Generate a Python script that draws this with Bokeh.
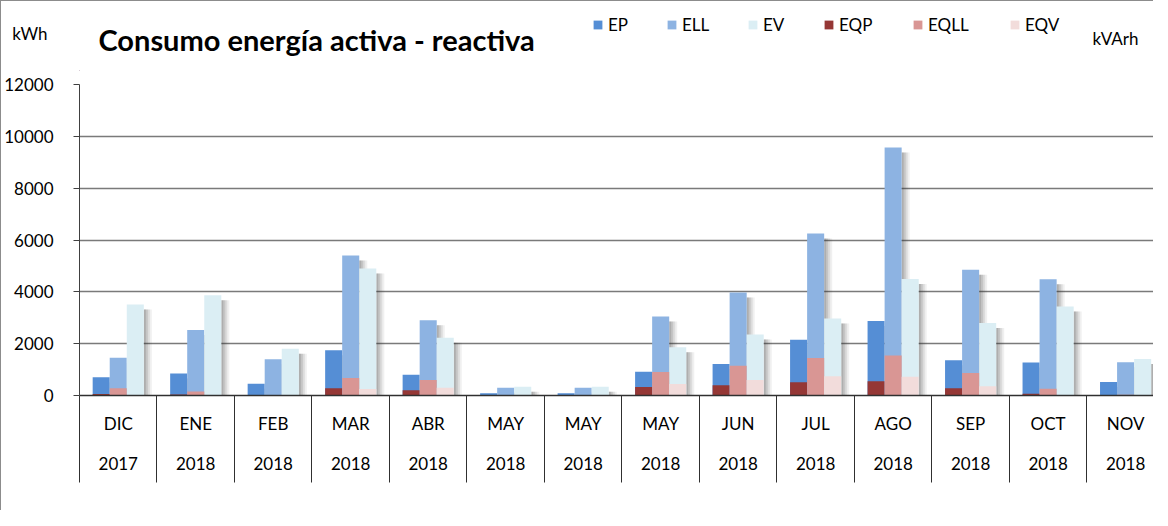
from bokeh.plotting import figure
from bokeh.layouts import column
from bokeh.models import (FixedTicker, LinearAxis, Legend, LegendItem, Label, Range1d,
                          ColumnDataSource, Grid)
from bokeh.embed import file_html
from bokeh.resources import INLINE

months = ["DIC", "ENE", "FEB", "MAR", "ABR", "MAY", "MAY", "MAY", "JUN", "JUL", "AGO", "SEP", "OCT", "NOV"]
years = ["2017", "2018", "2018", "2018", "2018", "2018", "2018", "2018", "2018", "2018", "2018", "2018", "2018", "2018"]
ep = [700, 850, 450, 1750, 800, 90, 90, 920, 1220, 2150, 2870, 1360, 1270, 520]
ell = [1460, 2530, 1400, 5400, 2900, 300, 300, 3050, 3970, 6250, 9570, 4850, 4490, 1280]
ev = [3510, 3870, 1800, 4900, 2230, 340, 335, 1860, 2350, 2970, 4500, 2800, 3430, 1410]
eqp = [60, 40, 10, 280, 200, 10, 10, 330, 400, 510, 550, 280, 70, 20]
eqll = [280, 150, 20, 680, 600, 20, 20, 910, 1150, 1450, 1540, 870, 260, 30]
eqv = [20, 20, 10, 250, 300, 10, 10, 440, 600, 740, 720, 360, 20, 10]
y_ticks = [0, 2000, 4000, 6000, 8000, 10000, 12000]
series_names = ["EP", "ELL", "EV", "EQP", "EQLL", "EQV"]

FONT = "Lato"
n = len(months)
centers = [i + 0.5 for i in range(n)]
bw = 0.22
offs = [-bw, 0.0, bw]
colors_a = ["#558ed5", "#8db3e2", "#dbeef4"]
colors_r = ["#953735", "#d99694", "#f2dcdb"]

FW = 1152
LEFT = 77

# ---------------- header (title, units, legend) ----------------
HH = 70
h = figure(width=FW, height=HH, output_backend="svg", toolbar_location=None,
           x_range=Range1d(LEFT, FW), y_range=Range1d(0, HH),
           x_axis_type=None, y_axis_type=None,
           min_border_left=LEFT, min_border_right=0, min_border_top=0, min_border_bottom=0)
h.outline_line_color = None
h.border_fill_color = "white"

unit_ax = LinearAxis(ticker=FixedTicker(ticks=[38]), major_label_overrides={38: "kWh"})
unit_ax.axis_line_color = None
unit_ax.major_tick_out = 0
unit_ax.major_tick_in = 0
unit_ax.major_label_standoff = 32
unit_ax.major_label_text_font = FONT
unit_ax.major_label_text_font_size = "17px"
unit_ax.major_label_text_color = "black"
h.add_layout(unit_ax, "left")

h.add_layout(Label(x=96, y=32, text="Consumo energía activa - reactiva", text_font=FONT,
                   text_font_style="bold", text_font_size="29px",
                   text_baseline="alphabetic", text_color="black"))
h.add_layout(Label(x=1091, y=33, text="kVArh", text_font=FONT, text_font_size="17px",
                   text_baseline="alphabetic", text_color="black"))

leg_x = [513, 587, 668, 744, 833, 930]
for name, col, lx in zip(series_names, colors_a + colors_r, leg_x):
    proxy = h.vbar(x=[-1000], top=[1], width=1, fill_color=col, line_color=None)
    lg = Legend(items=[LegendItem(label=name, renderers=[proxy])], location=(lx, 36),
                orientation="horizontal", glyph_width=11, glyph_height=11,
                label_text_font=FONT, label_text_font_size="17px", label_standoff=5,
                label_text_color="black",
                padding=0, margin=0, border_line_alpha=0, background_fill_alpha=0,
                label_height=20)
    h.add_layout(lg)

# ---------------- main chart ----------------
p = figure(width=FW, height=439, output_backend="svg", toolbar_location=None,
           x_range=Range1d(0, 13.86), y_range=Range1d(0, 12000),
           x_axis_type=None, y_axis_type=None,
           min_border_left=LEFT, min_border_right=0, min_border_top=13, min_border_bottom=115)
p.outline_line_color = None
p.background_fill_color = "white"
p.border_fill_color = "white"

grid = Grid(dimension=1, ticker=FixedTicker(ticks=y_ticks), grid_line_color="#7a7a7a",
            grid_line_width=1.3)
p.add_layout(grid)

# soft drop shadows, derived from the active series
px_x = 1.0 / 77.5
px_y = 12000.0 / 311.0
for off, vals in zip(offs, [ep, ell, ev]):
    for w, a in [(8, 0.07), (6, 0.1), (4, 0.13), (2, 0.15)]:
        src = ColumnDataSource(dict(
            left=[c + off + bw / 2 for c in centers],
            right=[c + off + bw / 2 + w * px_x for c in centers],
            top=[max(v - 5 * px_y, 0) for v in vals]))
        p.quad(left="left", right="right", bottom=0, top="top", source=src,
               fill_color="#303030", fill_alpha=a, line_color=None)

for off, vals, col in zip(offs, [ep, ell, ev], colors_a):
    src = ColumnDataSource(dict(x=[c + off for c in centers], top=vals))
    p.vbar(x="x", top="top", width=bw, source=src, fill_color=col, line_color=None)
for off, vals, col in zip(offs, [eqp, eqll, eqv], colors_r):
    src = ColumnDataSource(dict(x=[c + off for c in centers], top=vals))
    p.vbar(x="x", top="top", width=bw, source=src, fill_color=col, line_color=None)

# left axis
yax = LinearAxis(ticker=FixedTicker(ticks=y_ticks))
yax.major_tick_out = 6
yax.major_tick_in = 0
yax.axis_line_color = "#404040"
yax.major_tick_line_color = "#404040"
yax.major_label_text_font = FONT
yax.major_label_text_font_size = "17px"
yax.major_label_text_color = "black"
yax.major_label_standoff = 20
p.add_layout(yax, "left")

# category axes (month row + year row, separators as long minor ticks)
mo = {c: m for c, m in zip(centers, months)}
xax = LinearAxis(ticker=FixedTicker(ticks=centers, minor_ticks=list(range(n + 1))),
                 major_label_overrides=mo)
xax.major_tick_out = 0
xax.major_tick_in = 0
xax.minor_tick_out = 87
xax.minor_tick_in = 0
xax.minor_tick_line_color = "#303030"
xax.axis_line_color = "#303030"
xax.axis_line_width = 1.3
xax.major_label_text_font = FONT
xax.major_label_text_font_size = "17px"
xax.major_label_text_color = "black"
xax.major_label_standoff = -70
p.add_layout(xax, "below")

yo = {c: y for c, y in zip(centers, years)}
xax2 = LinearAxis(ticker=FixedTicker(ticks=centers), major_label_overrides=yo)
xax2.major_tick_out = 0
xax2.major_tick_in = 0
xax2.axis_line_color = None
xax2.major_label_text_font = FONT
xax2.major_label_text_font_size = "17px"
xax2.major_label_text_color = "black"
xax2.major_label_standoff = 20
p.add_layout(xax2, "below")

layout = column(h, p, spacing=0,
                styles={"border-left": "1px solid #8c8c8c", "border-top": "1px solid #8c8c8c"})

open("out.html", "w").write(file_html(layout, INLINE))
